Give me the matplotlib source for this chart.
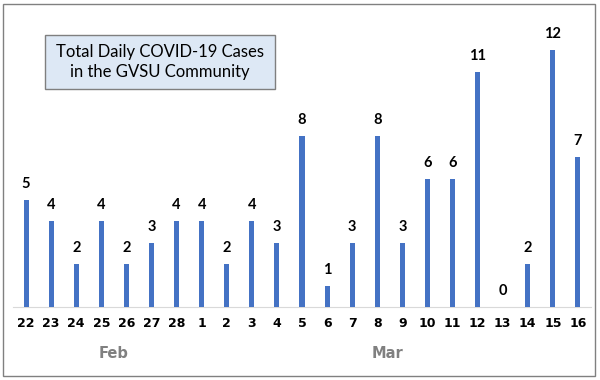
import matplotlib.pyplot as plt
from matplotlib.patches import Rectangle

days = ['22', '23', '24', '25', '26', '27', '28', '1', '2', '3', '4', '5',
        '6', '7', '8', '9', '10', '11', '12', '13', '14', '15', '16']
cases = [5, 4, 2, 4, 2, 3, 4, 4, 2, 4, 3, 8, 1, 3, 8, 3, 6, 6, 11, 0, 2, 12, 7]
months = ['Feb', 'Mar']
month_pos = [3.5, 14.4]  # category position under which the month name sits

fig = plt.figure(figsize=(6, 3.8), dpi=100)
ax = fig.add_axes([13.5 / 600, 73 / 380, 577 / 600, 290 / 380])

x = range(len(days))
ax.bar(x, cases, width=0.2, color='#4472C4', zorder=3)
for i, v in enumerate(cases):
    ax.text(i, v + 0.42, str(v), ha='center', va='bottom', fontsize=10.5,
            fontweight='bold', family='Lato')

ax.set_xlim(-0.5, len(days) - 0.5)
ax.set_ylim(0, 290 / 21.4)
ax.set_xticks(list(x))
ax.set_xticklabels(days, fontsize=9, fontweight='bold', family='DejaVu Sans')
ax.tick_params(axis='x', length=0, pad=7)
ax.set_yticks([])
for s in ['top', 'right', 'left']:
    ax.spines[s].set_visible(False)
ax.spines['bottom'].set_color('#d9d9d9')

for m, p in zip(months, month_pos):
    ax.text(p, -0.16, m, transform=ax.get_xaxis_transform(), ha='center',
            va='center', fontsize=10.5, fontweight='bold', color='#808080',
            family='DejaVu Sans')

# title box
fig.patches.append(Rectangle((45 / 600, 1 - 89 / 380), 230 / 600, 54 / 380,
                             transform=fig.transFigure, facecolor='#dde8f5',
                             edgecolor='#7f7f7f', linewidth=1))
fig.text(160 / 600, 1 - 62 / 380, 'Total Daily COVID-19 Cases\nin the GVSU Community',
         ha='center', va='center', fontsize=12, family='Lato', linespacing=1.35)

# outer frame
fig.patches.append(Rectangle((3 / 600, 4 / 380), 592 / 600, 372 / 380,
                             transform=fig.transFigure, facecolor='none',
                             edgecolor='#808080', linewidth=1))

fig.savefig('out.png', dpi=100)
